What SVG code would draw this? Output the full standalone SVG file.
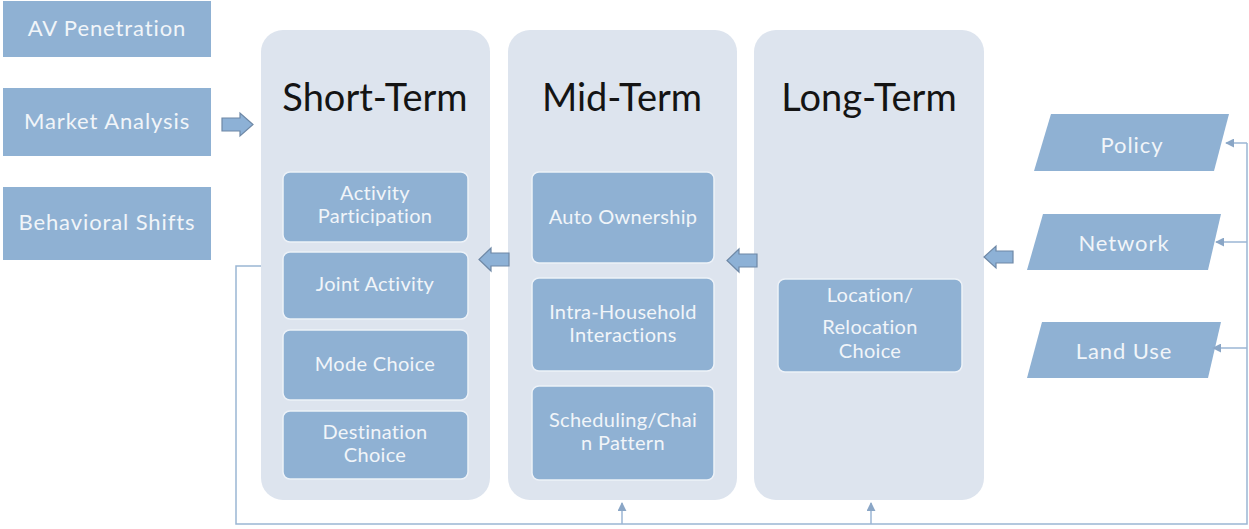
<svg xmlns="http://www.w3.org/2000/svg" width="1249" height="529" viewBox="0 0 1249 529">
<style>
.bg{fill:#ffffff}
.box{fill:#8fb1d3}
.panel{fill:#dde4ee}
.inner{fill:#8fb1d3;stroke:#edf2f8;stroke-width:1.5}
.t{font-family:Lato,"Liberation Sans",sans-serif;fill:#f1f5f9;text-anchor:middle}
.lt{font-size:22px;letter-spacing:0.9px}
.it{font-size:20px;letter-spacing:0.3px}
.title{font-family:Lato,"Liberation Sans",sans-serif;font-size:38px;fill:#141414;text-anchor:middle}
.blk{fill:#8db1d6;stroke:#6e88a6;stroke-width:1.2}
.ln{fill:none;stroke:#9bb6d4;stroke-width:1.5}
</style>
<defs>
<marker id="ah" viewBox="0 0 10 10" refX="9" refY="5" markerWidth="6" markerHeight="6" orient="auto">
<path d="M0,0 L10,5 L0,10 z" fill="#8aa6c6"/>
</marker>
</defs>
<rect class="bg" x="0" y="0" width="1249" height="529"/>

<g id="av-penetration"><rect class="box" x="3" y="1" width="208" height="56"/><text class="t lt" x="107" y="36">AV Penetration</text></g>
<g id="market-analysis"><rect class="box" x="3" y="88" width="208" height="68"/><text class="t lt" x="107" y="129">Market Analysis</text></g>
<g id="behavioral-shifts"><rect class="box" x="3" y="187" width="208" height="73"/><text class="t lt" x="107" y="230">Behavioral Shifts</text></g>

<g id="short-term">
<rect class="panel" x="261" y="30" width="229" height="470" rx="22"/>
<text class="title" x="375" y="111">Short-Term</text>
</g>
<g id="activity-participation"><rect class="inner" x="283" y="172" width="185" height="70" rx="7"/><text class="t it" x="375" y="200">Activity</text><text class="t it" x="375" y="223">Participation</text></g>
<g id="joint-activity"><rect class="inner" x="283" y="252" width="185" height="67" rx="7"/><text class="t it" x="375" y="291">Joint Activity</text></g>
<g id="mode-choice"><rect class="inner" x="283" y="330" width="185" height="70" rx="7"/><text class="t it" x="375" y="371">Mode Choice</text></g>
<g id="destination-choice"><rect class="inner" x="283" y="411" width="185" height="68" rx="7"/><text class="t it" x="375" y="439">Destination</text><text class="t it" x="375" y="462">Choice</text></g>

<g id="mid-term">
<rect class="panel" x="508" y="30" width="229" height="470" rx="22"/>
<text class="title" x="622" y="111">Mid-Term</text>
</g>
<g id="auto-ownership"><rect class="inner" x="532" y="172" width="182" height="91" rx="7"/><text class="t it" x="623" y="224">Auto Ownership</text></g>
<g id="intra-household"><rect class="inner" x="532" y="278" width="182" height="93" rx="7"/><text class="t it" x="623" y="319">Intra-Household</text><text class="t it" x="623" y="342">Interactions</text></g>
<g id="scheduling"><rect class="inner" x="532" y="386" width="182" height="94" rx="7"/><text class="t it" x="623" y="427">Scheduling/Chai</text><text class="t it" x="623" y="450">n Pattern</text></g>

<g id="long-term">
<rect class="panel" x="754" y="30" width="230" height="470" rx="22"/>
<text class="title" x="869" y="111">Long-Term</text>
</g>
<g id="location-choice"><rect class="inner" x="778" y="279" width="184" height="93" rx="7"/><text class="t it" x="870" y="302">Location/</text><text class="t it" x="870" y="334">Relocation</text><text class="t it" x="870" y="358">Choice</text></g>

<g id="policy"><polygon class="box" points="1051,114 1229,114 1214,171 1034,171"/><text class="t lt" x="1132" y="153">Policy</text></g>
<g id="network"><polygon class="box" points="1043,214 1221,214 1208,270 1027,270"/><text class="t lt" x="1124" y="251">Network</text></g>
<g id="land-use"><polygon class="box" points="1042,322 1221,322 1208,378 1027,378"/><text class="t lt" x="1124" y="359">Land Use</text></g>

<g id="connectors">
<polygon class="blk" points="222,118 240,118 240,113 253,124.5 240,136 240,131 222,131"/>
<polygon class="blk" points="509,253 491,253 491,248 479,259.5 491,271 491,266 509,266"/>
<polygon class="blk" points="757,254 739,254 739,249 727,260.5 739,272 739,267 757,267"/>
<polygon class="blk" points="1013,251 996,251 996,246 984,257 996,268 996,263 1013,263"/>
<polyline class="ln" points="261,266 236,266 236,524 1247,524 1247,143"/>
<line class="ln" x1="1247" y1="143" x2="1226" y2="143" marker-end="url(#ah)"/>
<line class="ln" x1="1247" y1="242" x2="1216" y2="242" marker-end="url(#ah)"/>
<line class="ln" x1="1247" y1="348" x2="1213" y2="348" marker-end="url(#ah)"/>
<line class="ln" x1="622" y1="524" x2="622" y2="503" marker-end="url(#ah)"/>
<line class="ln" x1="871" y1="524" x2="871" y2="503" marker-end="url(#ah)"/>
</g>
</svg>
